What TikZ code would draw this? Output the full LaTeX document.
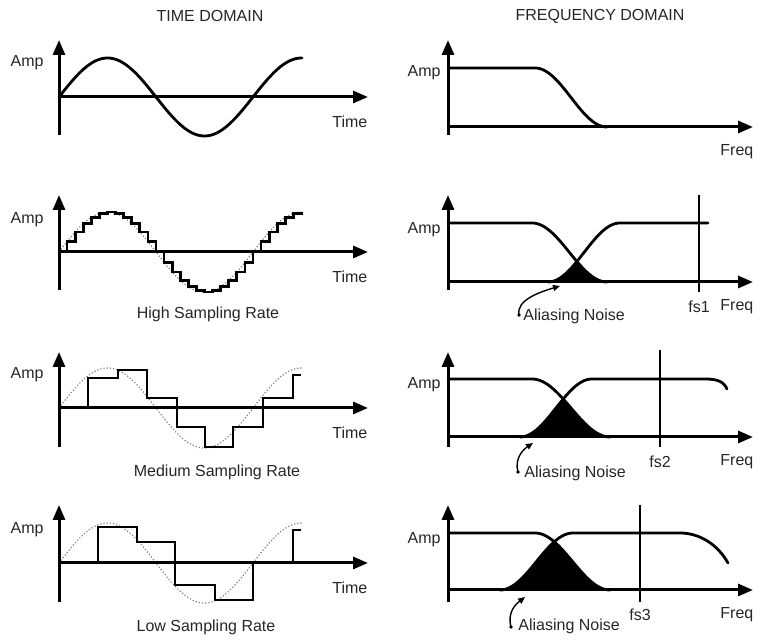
\documentclass[tikz,border=0pt]{standalone}
\usepackage{fontspec}
\setmainfont{Liberation Sans}
\usetikzlibrary{arrows.meta}
\begin{document}
\begin{tikzpicture}[x=0.5pt,y=-0.5pt,
  axarrow/.style={line width=1.5pt, -{Triangle[length=7.5pt,width=6pt]}},
  lbl/.style={font=\fontsize{8}{9.6}\selectfont, inner sep=0pt, text=black!85},
  fcurve/.style={line width=1.4pt, line join=round, line cap=round},
  stair/.style={line width=1.4pt, line join=miter},
  refsine/.style={line width=0.6pt, black!50, densely dotted},
  noisearrow/.style={line width=0.7pt, -{Triangle[length=3.5pt,width=3pt]}},
  fsline/.style={line width=1.3pt}
]
\useasboundingbox (0,0) rectangle (757,640);

% titles
\node[lbl] (tt) at (210,16) {TIME DOMAIN};
\node[lbl] (ft) at (600,16) {FREQUENCY DOMAIN};

% ================= ROW 1 =================
\draw[fcurve] plot[domain=59:302, samples=120] (\x, {97-39*sin((\x-59)/194*360)});
\draw[axarrow] (59,135) -- (59,40);
\draw[axarrow] (59,97) -- (368,97);
\node[lbl, anchor=east] (amp1) at (44,63) {Amp};
\node[lbl, anchor=west] (time1) at (332,122) {Time};

\draw[fcurve] (448,68) -- (535,68) -- plot[domain=535:607, samples=50] (\x, {127-59*(1+cos((\x-535)/72*180))/2});
\draw[axarrow] (448,135) -- (448,40);
\draw[axarrow] (448,127) -- (753,127);
\node[lbl, anchor=east] (famp1) at (441,73) {Amp};
\node[lbl, anchor=west] (freq1) at (720,152) {Freq};

% ================= ROW 2 =================
\draw[refsine] plot[domain=59:302, samples=120] (\x, {252-40*sin((\x-59)/194*360)});
\draw[stair] plot[const plot mark left, domain=0:30, samples=31, variable=\k] ({59+\k*194/24}, {252-40*sin(\k*15)});
\draw[axarrow] (59,290) -- (59,195);
\draw[axarrow] (59,252) -- (368,252);
\node[lbl, anchor=east] (amp2) at (44,220) {Amp};
\node[lbl, anchor=west] (time2) at (332,277) {Time};
\node[lbl] (cap2) at (208,314) {High Sampling Rate};

\fill plot[domain=548:607, samples=80] (\x, {max(282-59*(1+cos(min(max((\x-532)/75,0),1)*180))/2, 282-59*(1-cos(min(max((\x-548)/72,0),1)*180))/2)}) -- cycle;
\draw[fcurve] (448,223) -- (532,223) -- plot[domain=532:607, samples=50] (\x, {282-59*(1+cos((\x-532)/75*180))/2});
\draw[fcurve] plot[domain=548:620, samples=50] (\x, {282-59*(1-cos((\x-548)/72*180))/2}) -- (708,223);
\draw[fsline] (699,195) -- (699,292);
\draw[axarrow] (448,290) -- (448,195);
\draw[axarrow] (448,282) -- (753,282);
\node[lbl, anchor=east] (famp2) at (441,230) {Amp};
\node[lbl, anchor=west] (freq2) at (720,307) {Freq};
\node[lbl] (fs1) at (699,307) {fs1};
\node[lbl, anchor=west] (an2) at (523,316) {Aliasing Noise};
\coordinate (n2s) at (519,315);
\coordinate (n2e) at (560,286);
\fill (n2s) circle (0.9pt);
\draw[noisearrow] (n2s) .. controls (516,300) and (540,292) .. (n2e);

% ================= ROW 3 =================
\draw[refsine] plot[domain=59:302, samples=120] (\x, {408-40*sin((\x-59)/194*360)});
\draw[stair] (59,408) -- (88,408) -- (88,378) -- (118,378) -- (118,370) -- (147,370) -- (147,398) -- (177,398) -- (177,427) -- (205,427) -- (205,447) -- (233,447) -- (233,427) -- (263,427) -- (263,398) -- (293,398) -- (293,375) -- (301,375);
\draw[axarrow] (59,447) -- (59,352);
\draw[axarrow] (59,408) -- (368,408);
\node[lbl, anchor=east] (amp3) at (44,375) {Amp};
\node[lbl, anchor=west] (time3) at (332,433) {Time};
\node[lbl] (cap3) at (217,472) {Medium Sampling Rate};

\fill plot[domain=520:610, samples=80] (\x, {max(437-58*(1+cos(min(max((\x-532)/78,0),1)*180))/2, 437-58*(1-cos(min(max((\x-520)/72,0),1)*180))/2)}) -- cycle;
\draw[fcurve] (448,379) -- (532,379) -- plot[domain=532:610, samples=50] (\x, {437-58*(1+cos((\x-532)/78*180))/2});
\draw[fcurve] plot[domain=520:592, samples=50] (\x, {437-58*(1-cos((\x-520)/72*180))/2}) -- (705,379) .. controls (718,379) and (724,382) .. (727,389);
\draw[fsline] (660,350) -- (660,447);
\draw[axarrow] (448,447) -- (448,352);
\draw[axarrow] (448,437) -- (753,437);
\node[lbl, anchor=east] (famp3) at (441,385) {Amp};
\node[lbl, anchor=west] (freq3) at (720,462) {Freq};
\node[lbl] (fs2) at (660,462) {fs2};
\node[lbl, anchor=west] (an3) at (524,473) {Aliasing Noise};
\coordinate (n3s) at (518,472);
\coordinate (n3e) at (533,443);
\fill (n3s) circle (0.9pt);
\draw[noisearrow] (n3s) .. controls (514,458) and (524,449) .. (n3e);

% ================= ROW 4 =================
\draw[refsine] plot[domain=59:302, samples=120] (\x, {563-40*sin((\x-59)/194*360)});
\draw[stair] (59,563) -- (98,563) -- (98,527) -- (137,527) -- (137,542) -- (175,542) -- (175,585) -- (215,585) -- (215,600) -- (253,600) -- (253,563) -- (293,563) -- (293,530) -- (301,530);
\draw[axarrow] (59,602) -- (59,505);
\draw[axarrow] (59,563) -- (368,563);
\node[lbl, anchor=east] (amp4) at (44,530) {Amp};
\node[lbl, anchor=west] (time4) at (332,588) {Time};
\node[lbl] (cap4) at (206,627) {Low Sampling Rate};

\fill plot[domain=500:610, samples=80] (\x, {max(590-57*(1+cos(min(max((\x-535)/75,0),1)*180))/2, 590-57*(1-cos(min(max((\x-500)/73,0),1)*180))/2)}) -- cycle;
\draw[fcurve] (448,533) -- (535,533) -- plot[domain=535:610, samples=50] (\x, {590-57*(1+cos((\x-535)/75*180))/2});
\draw[fcurve] plot[domain=500:573, samples=50] (\x, {590-57*(1-cos((\x-500)/73*180))/2}) -- (680,533) .. controls (700,533) and (718,545) .. (728,563);
\draw[fsline] (640,505) -- (640,602);
\draw[axarrow] (448,602) -- (448,505);
\draw[axarrow] (448,590) -- (753,590);
\node[lbl, anchor=east] (famp4) at (441,540) {Amp};
\node[lbl, anchor=west] (freq4) at (720,615) {Freq};
\node[lbl] (fs3) at (640,615) {fs3};
\node[lbl, anchor=west] (an4) at (518,626) {Aliasing Noise};
\coordinate (n4s) at (511,627);
\coordinate (n4e) at (525,597);
\fill (n4s) circle (0.9pt);
\draw[noisearrow] (n4s) .. controls (507,612) and (516,604) .. (n4e);
\end{tikzpicture}
\end{document}
